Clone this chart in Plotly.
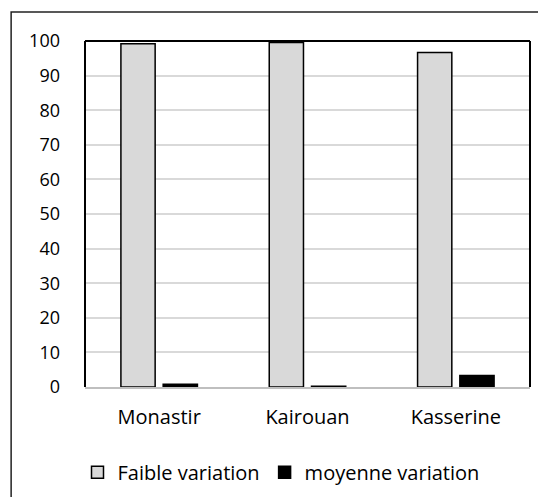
import plotly.graph_objects as go

regions = ['Monastir', 'Kairouan', 'Kasserine']
faible = [99.2, 99.6, 96.7]
moyenne = [0.8, 0.2, 3.3]

font_family = '"Open Sans", sans-serif'

fig = go.Figure()
fig.add_trace(go.Bar(x=regions, y=faible, name='Faible variation',
                     marker=dict(color='#d9d9d9', line=dict(color='black', width=1.5))))
fig.add_trace(go.Bar(x=regions, y=moyenne, name='moyenne variation',
                     marker=dict(color='black', line=dict(color='black', width=1.5))))

# the page body adds 8px around the figure, margins take that into account
fig.update_layout(
    width=546, height=497,
    margin=dict(l=77, r=24, t=33, b=118, autoexpand=False),
    plot_bgcolor='white', paper_bgcolor='white',
    font=dict(family=font_family, size=20, color='black'),
    barmode='group', bargap=0.43, bargroupgap=0.19,
    showlegend=True,
    legend=dict(orientation='h', x=0.5, xanchor='center', xref='container',
                y=0.066, yanchor='middle', yref='container',
                font=dict(size=20), itemwidth=30, traceorder='normal'),
    xaxis=dict(showline=True, linecolor='#bfbfbf', linewidth=2, ticks='',
               ticklabelstandoff=11, automargin=False),
    yaxis=dict(range=[0, 100], dtick=10, showgrid=True, gridcolor='#d9d9d9',
               gridwidth=1.5, zeroline=False, ticks='', ticklabelstandoff=24,
               tickfont=dict(size=18), automargin=False),
)

# frame around plot area (left, top, right in black)
for x0, y0, x1, y1 in [(0, 0, 0, 1), (0, 1, 1, 1), (1, 0, 1, 1)]:
    fig.add_shape(type='line', xref='paper', yref='paper', x0=x0, y0=y0, x1=x1, y1=y1,
                  line=dict(color='black', width=2))

# outer chart border
fig.add_shape(type='rect', xref='paper', yref='paper', x0=-0.166, x1=1.07,
              y0=-0.38, y1=1.084, line=dict(color='#222222', width=1.5), layer='below')

fig.write_html('out.html')
